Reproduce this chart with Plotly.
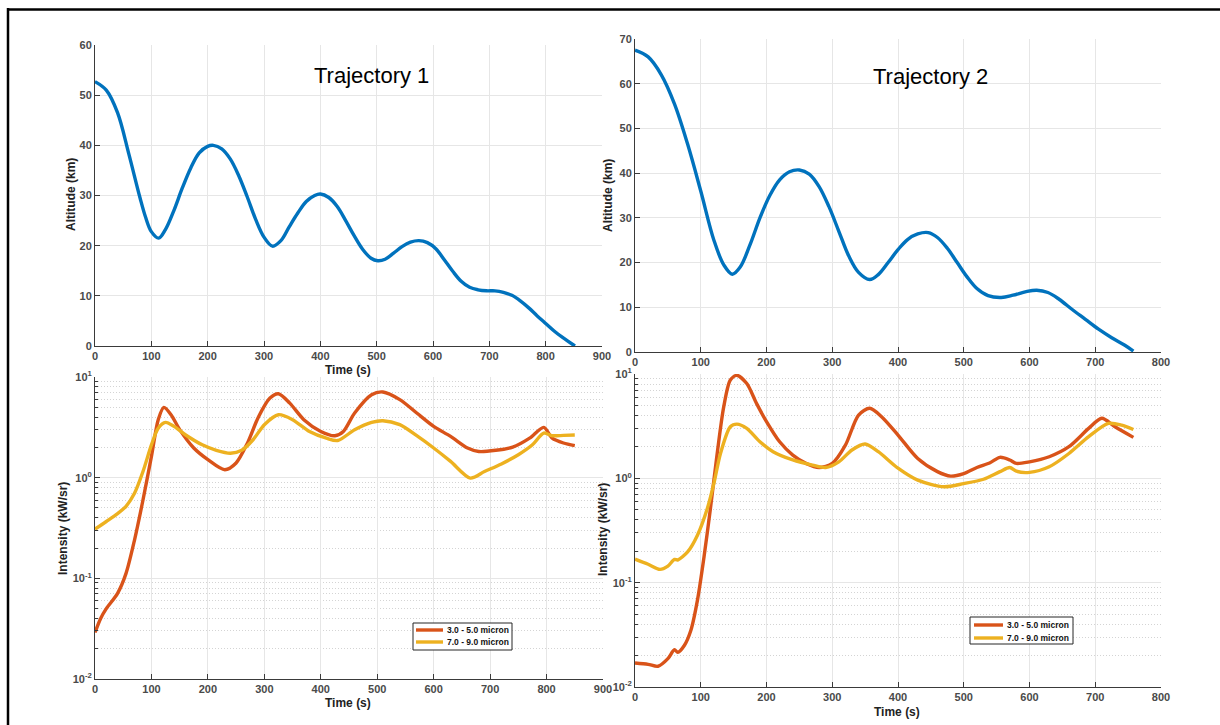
import plotly.graph_objects as go

# ---- Trajectory 1: altitude history ----
t1_alt = [0, 20, 40, 60, 80, 90, 100, 113, 125, 140, 155, 170, 185, 200, 210, 225, 240, 255,
          270, 285, 300, 315, 330, 345, 360, 375, 390, 400, 415, 430, 445, 460, 475, 490,
          502, 515, 530, 545, 560, 575, 590, 605, 620, 635, 650, 665, 680, 695, 710, 725,
          740, 755, 770, 785, 800, 815, 830, 852]
alt1 = [52.7, 51.0, 46.5, 38.3, 29.5, 25.6, 22.8, 21.5, 23.2, 27.0, 31.5, 35.5, 38.5, 39.8,
        40.0, 39.3, 37.3, 34.0, 29.8, 25.3, 21.7, 19.9, 21.0, 23.8, 26.5, 28.8, 30.0, 30.3,
        29.6, 27.8, 25.0, 22.0, 19.3, 17.5, 17.0, 17.3, 18.5, 19.8, 20.7, 21.0, 20.6, 19.4,
        17.2, 14.9, 12.9, 11.7, 11.2, 11.0, 11.0, 10.7, 10.1, 9.0, 7.6, 6.0, 4.5, 3.0, 1.7, 0.0]

# ---- Trajectory 2: altitude history ----
t2_alt = [0, 20, 40, 60, 80, 100, 120, 135, 148, 160, 175, 190, 205, 220, 235, 250, 265, 280,
          295, 310, 325, 340, 357, 370, 385, 400, 415, 430, 446, 460, 475, 490, 505, 520, 537,
          557, 575, 595, 611, 628, 645, 665, 685, 705, 725, 745, 758]
alt2 = [67.5, 66.0, 62.0, 55.5, 46.5, 36.0, 25.0, 19.5, 17.4, 19.0, 24.0, 30.0, 35.0, 38.5,
        40.3, 40.7, 39.8, 37.0, 32.5, 27.0, 21.5, 17.8, 16.2, 17.3, 20.0, 22.9, 25.2, 26.4,
        26.7, 25.6, 23.2, 20.0, 16.8, 14.2, 12.6, 12.2, 12.7, 13.5, 13.8, 13.3, 11.8, 9.5,
        7.3, 5.1, 3.2, 1.5, 0.2]

# ---- Trajectory 1: band intensities (kW/sr) ----
t1_int = [0, 10, 20, 40, 55, 70, 85, 100, 112, 122, 135, 150, 175, 200, 230, 250, 270, 290,
          310, 325, 345, 370, 400, 425, 440, 460, 490, 510, 540, 570, 600, 630, 660, 680,
          710, 740, 770, 795, 810, 830, 850]
mwir1 = [0.029, 0.040, 0.050, 0.071, 0.112, 0.24, 0.60, 1.63, 3.77, 4.99, 4.2, 3.0, 1.97,
         1.51, 1.20, 1.40, 2.2, 4.06, 6.18, 6.82, 5.5, 3.77, 2.88, 2.61, 2.88, 4.39, 6.67,
         7.1, 5.96, 4.39, 3.23, 2.57, 1.97, 1.82, 1.87, 2.01, 2.47, 3.16, 2.47, 2.21, 2.08]
t1_lw = [0, 20, 40, 55, 70, 85, 100, 112, 125, 140, 160, 190, 215, 240, 260, 280, 300, 325,
         350, 380, 410, 430, 460, 490, 510, 540, 570, 600, 630, 665, 690, 720, 750, 775, 795,
         810, 830, 850]
lwir1 = [0.308, 0.367, 0.44, 0.52, 0.70, 1.15, 2.12, 3.1, 3.54, 3.23, 2.67, 2.12, 1.87, 1.75,
         1.87, 2.38, 3.36, 4.22, 3.77, 2.88, 2.47, 2.34, 2.99, 3.54, 3.68, 3.36, 2.61, 1.97,
         1.45, 0.99, 1.15, 1.37, 1.69, 2.12, 2.77, 2.61, 2.63, 2.65]

# ---- Trajectory 2: band intensities (kW/sr) ----
t2_int = [0, 20, 35, 50, 60, 65, 75, 85, 95, 105, 115, 125, 135, 145, 155, 170, 185, 200,
          220, 240, 260, 280, 300, 320, 340, 357, 375, 400, 430, 460, 480, 500, 520, 540,
          555, 570, 580, 600, 630, 660, 690, 710, 730, 758]
mwir2 = [0.0170, 0.0165, 0.0158, 0.0187, 0.0228, 0.0215, 0.025, 0.035, 0.068, 0.177, 0.53,
         1.73, 4.86, 8.75, 9.7, 8.1, 5.2, 3.5, 2.24, 1.67, 1.39, 1.27, 1.39, 2.08, 4.04, 4.69,
         3.9, 2.6, 1.55, 1.16, 1.05, 1.11, 1.27, 1.41, 1.59, 1.50, 1.39, 1.44, 1.61, 2.01,
         3.01, 3.76, 3.12, 2.47]
t2_lw = [0, 20, 38, 50, 60, 65, 80, 95, 110, 120, 130, 145, 155, 170, 190, 210, 240, 270,
         290, 310, 330, 350, 370, 400, 430, 470, 500, 530, 555, 570, 580, 600, 630, 660, 690,
         720, 740, 758]
lwir2 = [0.168, 0.150, 0.134, 0.144, 0.167, 0.165, 0.197, 0.285, 0.514, 0.893, 1.73, 3.12,
         3.31, 3.01, 2.24, 1.80, 1.50, 1.34, 1.27, 1.44, 1.87, 2.13, 1.80, 1.25, 0.96, 0.83,
         0.89, 0.98, 1.16, 1.27, 1.17, 1.14, 1.29, 1.73, 2.51, 3.36, 3.24, 2.94]

band_names = ["3.0 - 5.0 micron", "7.0 - 9.0 micron"]
log_ticks = [0.01, 0.1, 1, 10]
log_ticktext = ["10<sup>-2</sup>", "10<sup>-1</sup>", "10<sup>0</sup>", "10<sup>1</sup>"]

BLUE = "#0072BD"
RED = "#D95319"
GOLD = "#EDB120"
W, H = 1220, 725
NARROW = "Liberation Sans Narrow, Arial Narrow, Liberation Sans, Arial, sans-serif"
SANS = "Liberation Sans, Arial, sans-serif"


def px(x):
    return x / W


def py(y):
    return 1 - y / H


fig = go.Figure()

alt_line = dict(color=BLUE, width=3.4, shape="spline", smoothing=1.0)
fig.add_trace(go.Scatter(x=t1_alt, y=alt1, mode="lines", line=alt_line,
                         xaxis="x", yaxis="y", showlegend=False))
fig.add_trace(go.Scatter(x=t2_alt, y=alt2, mode="lines", line=alt_line,
                         xaxis="x2", yaxis="y2", showlegend=False))
for xs, ys, col, ax in [(t1_int, mwir1, RED, "3"), (t1_lw, lwir1, GOLD, "3"),
                        (t2_int, mwir2, RED, "4"), (t2_lw, lwir2, GOLD, "4")]:
    fig.add_trace(go.Scatter(x=xs, y=ys, mode="lines",
                             line=dict(color=col, width=3.4, shape="spline", smoothing=0.8),
                             xaxis="x" + ax, yaxis="y" + ax, showlegend=False))

tickfont = dict(family=NARROW, size=11, color="#4a4a4a", weight="bold")
base = dict(showline=True, linecolor="#3a3a3a", linewidth=1, ticks="inside", ticklen=5,
            tickcolor="#3a3a3a", showgrid=True, gridcolor="#e6e6e6", gridwidth=1,
            zeroline=False, tickfont=tickfont, automargin=False)

log_minor = dict(ticks="inside", ticklen=3, tickcolor="#3a3a3a", showgrid=True,
                 gridcolor="#d4d4d4", griddash="1px,2px", dtick="D1")

fig.update_layout(
    width=W, height=H,
    margin=dict(l=0, r=0, t=0, b=0),
    paper_bgcolor="white", plot_bgcolor="white",
    showlegend=False,
    xaxis=dict(base, domain=[px(95), px(602)], range=[0, 900], dtick=100, anchor="y"),
    yaxis=dict(base, domain=[py(346), py(45)], range=[0, 60], dtick=10, anchor="x"),
    xaxis2=dict(base, domain=[px(635), px(1161)], range=[0, 800], dtick=100, anchor="y2"),
    yaxis2=dict(base, domain=[py(352), py(39)], range=[0, 70], dtick=10, anchor="x2"),
    xaxis3=dict(base, domain=[px(95), px(603)], range=[0, 900], dtick=100, anchor="y3"),
    yaxis3=dict(base, domain=[py(679), py(377)], type="log", range=[-2, 1], tickmode="array",
                tickvals=log_ticks, ticktext=log_ticktext, minor=log_minor, anchor="x3"),
    xaxis4=dict(base, domain=[px(635), px(1161)], range=[0, 800], dtick=100, anchor="y4"),
    yaxis4=dict(base, domain=[py(687), py(374)], type="log", range=[-2, 1], tickmode="array",
                tickvals=log_ticks, ticktext=log_ticktext, minor=log_minor, anchor="x4"),
)

title_font = dict(family=NARROW, size=12, color="#222222", weight="bold")
ann = []
# panel labels inside the altitude plots
ann.append(dict(x=490, y=54, xref="x", yref="y", text="Trajectory 1", showarrow=False,
                font=dict(family=SANS, size=22, color="black")))
ann.append(dict(x=449, y=61.7, xref="x2", yref="y2", text="Trajectory 2", showarrow=False,
                font=dict(family=SANS, size=22, color="black")))
# axis titles
for (x, y, txt, ang) in [
    (71, 195, "Altitude (km)", -90),
    (608, 196, "Altitude (km)", -90),
    (63, 529, "Intensity (kW/sr)", -90),
    (603, 530, "Intensity (kW/sr)", -90),
    (348, 370, "Time (s)", 0),
    (348, 703, "Time (s)", 0),
    (897, 712, "Time (s)", 0),
]:
    ann.append(dict(x=px(x), y=py(y), xref="paper", yref="paper", text=txt, showarrow=False,
                    textangle=ang, xanchor="center", yanchor="middle", font=title_font))

# legend boxes for the two intensity panels: (left, top, right, bottom, line x0, line x1, row y's)
legend_boxes = [
    (413, 623, 512, 650, 416, 443, (630, 642)),
    (970, 617, 1073, 644, 974, 1003, (625, 638)),
]
legend_colors = [RED, GOLD]
shapes = []
for (l, t, r, b, lx0, lx1, rows) in legend_boxes:
    shapes.append(dict(type="rect", xref="paper", yref="paper", x0=px(l), x1=px(r),
                       y0=py(b), y1=py(t), fillcolor="white", line=dict(color="#262626", width=1),
                       layer="above"))
    for name, col, ry in zip(band_names, legend_colors, rows):
        shapes.append(dict(type="line", xref="paper", yref="paper", x0=px(lx0), x1=px(lx1),
                           y0=py(ry), y1=py(ry), line=dict(color=col, width=3.4), layer="above"))
        ann.append(dict(x=px(lx1 + 2), y=py(ry), xref="paper", yref="paper", text=name,
                        showarrow=False, xanchor="left", yanchor="middle",
                        font=dict(family=NARROW, size=8.5, color="#111111", weight="bold")))

# outer frame lines along the top and left edges
shapes.append(dict(type="line", xref="paper", yref="paper", x0=px(7), x1=1, y0=py(9.5), y1=py(9.5),
                   line=dict(color="black", width=2.5)))
shapes.append(dict(type="line", xref="paper", yref="paper", x0=px(8), x1=px(8), y0=py(8), y1=0,
                   line=dict(color="black", width=2.5)))

fig.update_layout(annotations=ann, shapes=shapes)

fig.write_html("out.html")
